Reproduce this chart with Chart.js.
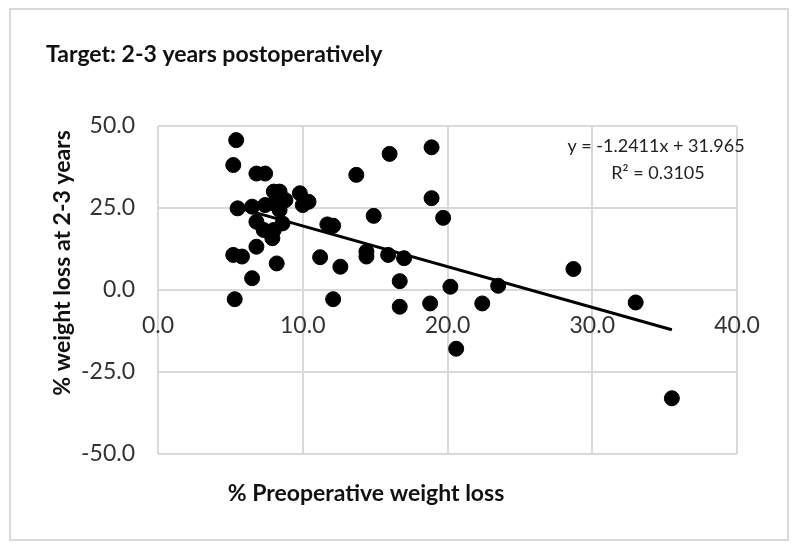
<!DOCTYPE html>
<html>
<head>
    <title>Target: 2-3 years postoperatively</title>
    <style>
        body {
            margin: 0;
            padding: 0;
            background-color: #FFFFFF;
        }

        #wrap {
            position: relative;
            width: 800px;
            height: 557px;
        }

        #frame {
            position: absolute;
            left: 9px;
            top: 8px;
            width: 776px;
            height: 529px;
            border: 2px solid #d9d9d9;
        }

        canvas {
            position: absolute;
            left: 0;
            top: 0;
        }
    </style>
</head>
<body>
    <div id="wrap">
        <div id="frame"></div>
        <canvas id="chart" width="800" height="557"></canvas>
    </div>

    <script src="https://cdn.jsdelivr.net/npm/chart.js"></script>
    <script>
        var chartTitle = 'Target: 2-3 years postoperatively';
        var xTitle = '% Preoperative weight loss';
        var yTitle = '% weight loss at 2-3 years';
        var equationLines = ['y = -1.2411x + 31.965', 'R\u00b2 = 0.3105'];

        // % preoperative weight loss (x) and % weight loss at 2-3 years (y)
        var preopLoss = [
            5.4, 5.2, 6.8, 7.4, 5.5, 6.5, 7.4, 8.0, 8.4, 8.0,
            8.4, 8.8, 9.8, 10.4, 10.0, 6.8, 7.3, 8.0, 8.6, 7.9,
            6.8, 5.2, 5.8, 8.2, 6.5, 5.3, 11.7, 12.1, 11.2, 12.6,
            12.1, 13.7, 16.0, 18.9, 18.9, 14.9, 19.7, 14.4, 14.4, 15.9,
            17.0, 16.7, 20.2, 23.5, 16.7, 18.8, 22.4, 20.6, 28.7, 33.0,
            35.5
        ];
        var postopLoss = [
            45.7, 38.1, 35.5, 35.5, 24.9, 25.4, 25.9, 26.4, 24.4, 30.0,
            30.0, 27.4, 29.5, 26.9, 25.9, 20.8, 18.3, 18.3, 20.3, 15.8,
            13.2, 10.7, 10.2, 8.1, 3.6, -2.8, 20.0, 19.6, 10.0, 7.1,
            -2.8, 35.1, 41.5, 43.5, 28.0, 22.6, 22.0, 11.7, 10.2, 10.7,
            9.7, 2.7, 1.0, 1.3, -5.1, -4.1, -4.1, -17.9, 6.4, -3.8,
            -33.0
        ];

        // linear trendline end points
        var trendX = [5.2, 35.5];
        var trendY = [25.5, -12.1];

        var xTicks = [0, 10, 20, 30, 40];
        var yTicks = [-50, -25, 0, 25, 50];

        var fontFamily = 'Lato, "Liberation Sans", sans-serif';
        var gridColor = '#d9d9d9';

        var points = [];
        for (var i = 0; i < preopLoss.length; i++) {
            points.push({ x: preopLoss[i], y: postopLoss[i] });
        }
        var trend = [];
        for (var j = 0; j < trendX.length; j++) {
            trend.push({ x: trendX[j], y: trendY[j] });
        }

        // titles and trendline label, drawn on the canvas
        var textPlugin = {
            id: 'extraText',
            afterDraw: function(chart) {
                var ctx = chart.ctx;
                ctx.save();
                ctx.fillStyle = '#111111';
                ctx.textBaseline = 'alphabetic';

                ctx.font = 'bold 23px ' + fontFamily;
                ctx.textAlign = 'left';
                ctx.fillText(chartTitle, 46, 62);

                ctx.textAlign = 'center';
                ctx.fillText(xTitle, 366, 501);

                ctx.save();
                ctx.translate(70, 263);
                ctx.rotate(-Math.PI / 2);
                ctx.fillText(yTitle, 0, 0);
                ctx.restore();

                ctx.font = '18px ' + fontFamily;
                ctx.fillStyle = '#222222';
                ctx.fillText(equationLines[0], 656, 152);
                ctx.fillText(equationLines[1], 658, 179);
                ctx.restore();
            }
        };

        var ctx = document.getElementById('chart').getContext('2d');
        var chart = new Chart(ctx, {
            type: 'scatter',
            data: {
                datasets: [{
                    label: 'Trendline',
                    type: 'line',
                    data: trend,
                    borderColor: '#000000',
                    borderWidth: 3,
                    pointRadius: 0,
                    fill: false,
                    order: 0
                }, {
                    label: 'Patients',
                    data: points,
                    backgroundColor: '#000000',
                    borderColor: '#000000',
                    pointRadius: 7.5,
                    pointHoverRadius: 7.5,
                    order: 1
                }]
            },
            options: {
                responsive: false,
                animation: false,
                layout: {
                    padding: { top: 126, right: 63, bottom: 103, left: 0 }
                },
                plugins: {
                    legend: { display: false },
                    tooltip: { enabled: false }
                },
                scales: {
                    x: {
                        type: 'linear',
                        position: { y: 0 },
                        min: xTicks[0],
                        max: xTicks[xTicks.length - 1],
                        afterBuildTicks: function(scale) {
                            scale.ticks = xTicks.map(function(v) { return { value: v }; });
                        },
                        ticks: {
                            padding: 22,
                            color: '#333333',
                            font: { family: fontFamily, size: 23 },
                            callback: function(v) { return Number(v).toFixed(1); }
                        },
                        grid: { color: gridColor, lineWidth: 2, drawTicks: false },
                        border: { display: false }
                    },
                    y: {
                        min: yTicks[0],
                        max: yTicks[yTicks.length - 1],
                        afterBuildTicks: function(scale) {
                            scale.ticks = yTicks.map(function(v) { return { value: v }; });
                        },
                        afterFit: function(scale) {
                            scale.width = 158;
                        },
                        ticks: {
                            padding: 23,
                            color: '#333333',
                            font: { family: fontFamily, size: 23 },
                            callback: function(v) { return Number(v).toFixed(1); }
                        },
                        grid: { color: gridColor, lineWidth: 2, drawTicks: false },
                        border: { display: false }
                    }
                }
            },
            plugins: [textPlugin]
        });
    </script>
</body>
</html>
